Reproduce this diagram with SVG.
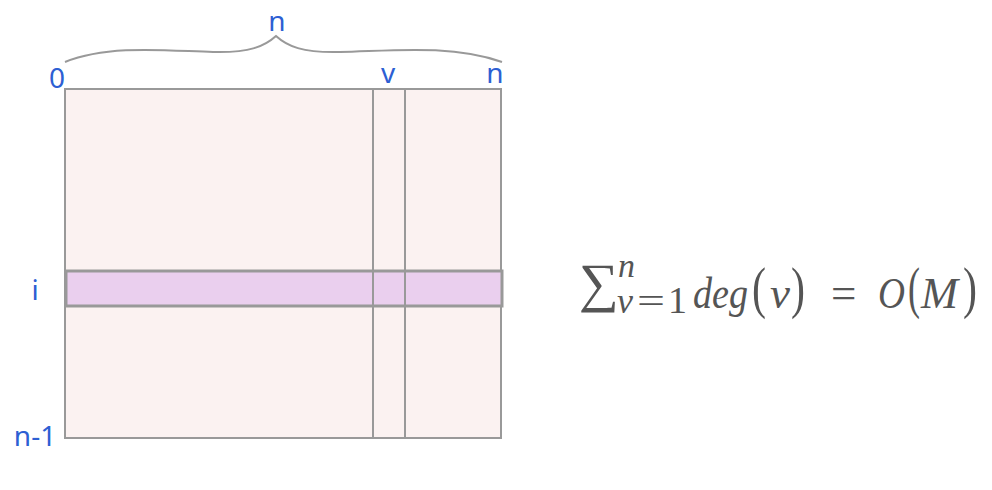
<svg xmlns="http://www.w3.org/2000/svg" width="992" height="490" viewBox="0 0 992 490">
<style>
.lbl{font-family:"Noto Sans","Open Sans",sans-serif;font-size:28px;fill:#2d5fd3}
.grid{fill:none;stroke:#999;stroke-width:2}
.math{font-family:"Liberation Serif",serif;fill:#555}
.it{font-style:italic}
.par{font-size:56px}
</style>
<rect width="992" height="490" fill="#fff"/>
<g id="matrix">
<rect x="65" y="89" width="436" height="349" fill="#fbf2f1" stroke="#999" stroke-width="2"/>
<rect x="66" y="271" width="436" height="35" fill="#eacfee" stroke="#999" stroke-width="3"/>
<line class="grid" x1="373" y1="89" x2="373" y2="438"/>
<line class="grid" x1="405" y1="89" x2="405" y2="438"/>
</g>
<g id="brace">
<path d="M65,62 C110,44 170,51 213,52 C250,53 265,46 276,36 C287,46 302,53 340,52 C390,51 450,44 502,62" fill="none" stroke="#999" stroke-width="2"/>
</g>
<g id="labels">
<text class="lbl" x="277" y="31" text-anchor="middle">n</text>
<text class="lbl" x="57" y="88" text-anchor="middle">0</text>
<text class="lbl" x="388" y="83" text-anchor="middle">v</text>
<text class="lbl" x="495" y="83" text-anchor="middle">n</text>
<text class="lbl" x="35" y="300" text-anchor="middle">i</text>
<text class="lbl" x="35" y="446" text-anchor="middle">n-1</text>
</g>
<g id="formula" class="math">
<text x="579" y="301" font-size="54" textLength="40" lengthAdjust="spacingAndGlyphs">∑</text>
<text class="it" x="618" y="277" font-size="34">n</text>
<text class="it" x="617" y="313" font-size="36">v</text>
<text x="637" y="313" font-size="36" textLength="28" lengthAdjust="spacingAndGlyphs">=</text>
<text x="668" y="313" font-size="38">1</text>
<text class="it" font-size="45" y="308" x="693" textLength="55" lengthAdjust="spacingAndGlyphs">deg</text>
<text class="par" x="752" y="307" textLength="14" lengthAdjust="spacingAndGlyphs">(</text>
<text class="it" font-size="45" y="308" x="770">v</text>
<text class="par" x="791" y="307" textLength="14" lengthAdjust="spacingAndGlyphs">)</text>
<text x="831" y="308" font-size="45">=</text>
<text class="it" font-size="45" y="308" x="878" textLength="27" lengthAdjust="spacingAndGlyphs">O</text>
<text class="par" x="908" y="307" textLength="12" lengthAdjust="spacingAndGlyphs">(</text>
<text class="it" font-size="45" y="308" x="921" textLength="37" lengthAdjust="spacingAndGlyphs">M</text>
<text class="par" x="963" y="307" textLength="14" lengthAdjust="spacingAndGlyphs">)</text>
</g>
</svg>
